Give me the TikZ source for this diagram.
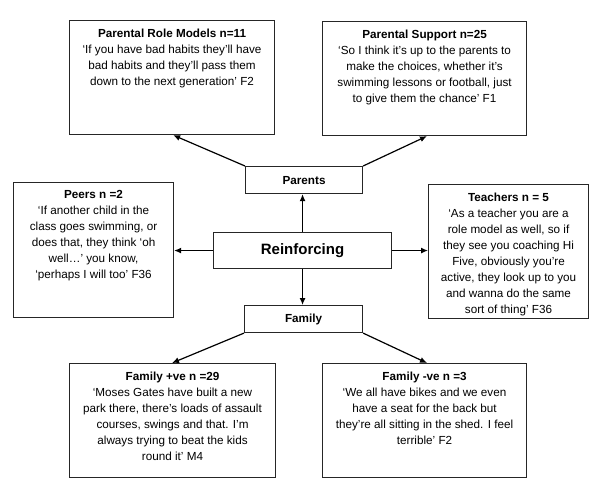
\documentclass[tikz,border=0pt]{standalone}
\usepackage{fontspec}
\setmainfont{Liberation Sans}
\usetikzlibrary{arrows.meta}
\begin{document}
\begin{tikzpicture}[x=1pt,y=-1pt,
  box/.style={draw=black!85,line width=1.1pt,inner sep=0pt,anchor=north west},
  txt/.style={anchor=north,align=center,inner sep=0pt,font=\fontsize{11.7}{16}\selectfont},
  arr/.style={line width=1.2pt,-{Latex[length=7pt,width=6pt]}}]
\useasboundingbox (0,0) rectangle (600,490);
% boxes
\node[box,minimum width=205pt,minimum height=114pt] (prm) at (69,20) {};
\node[box,minimum width=204pt,minimum height=114pt] (ps) at (322,21) {};
\node[box,minimum width=117pt,minimum height=27pt] (par) at (245,166) {};
\node[box,minimum width=160pt,minimum height=135pt] (peer) at (13,182) {};
\node[box,minimum width=178pt,minimum height=36pt] (rein) at (213,232) {};
\node[box,minimum width=160pt,minimum height=134pt] (teach) at (428,184) {};
\node[box,minimum width=118pt,minimum height=27pt] (fam) at (244,305) {};
\node[box,minimum width=206pt,minimum height=114pt] (fpos) at (69,363) {};
\node[box,minimum width=204pt,minimum height=114pt] (fneg) at (322,363) {};
% texts
\node[txt] at ([yshift=-8.5pt]prm.north) {\textbf{Parental Role Models n=11}\\ ‘If you have bad habits they'll have\\ bad habits and they'll pass them\\ down to the next generation’ F2};
\node[txt] at ([yshift=-9pt]ps.north) {\textbf{Parental Support n=25}\\ ‘So I think it's up to the parents to\\ make the choices, whether it's\\ swimming lessons or football, just\\ to give them the chance’ F1};
\node[font=\bfseries\fontsize{11.7}{14}\selectfont] at (par.center) {Parents};
\node[txt] at ([yshift=-8.5pt]peer.north) {\textbf{Peers n =2}\\ ‘If another child in the\\ class goes swimming, or\\ does that, they think ‘oh\\ well…’ you know,\\ ‘perhaps I will too’ F36};
\node[font=\bfseries\fontsize{15}{18}\selectfont] at (rein.center) {Reinforcing};
\node[txt] at ([yshift=-9pt]teach.north) {\textbf{Teachers n = 5}\\ ‘As a teacher you are a\\ role model as well, so if\\ they see you coaching Hi\\ Five, obviously you’re\\ active, they look up to you\\ and wanna do the same\\ sort of thing’ F36};
\node[font=\bfseries\fontsize{11.7}{14}\selectfont] at (fam.center) {Family};
\node[txt] at ([yshift=-9pt]fpos.north) {\textbf{Family +ve n =29}\\ ‘Moses Gates have built a new\\ park there, there's loads of assault\\ courses, swings and that. I'm\\ always trying to beat the kids\\ round it’ M4};
\node[txt] at ([yshift=-9pt]fneg.north) {\textbf{Family -ve n =3}\\ ‘We all have bikes and we even\\ have a seat for the back but\\ they're all sitting in the shed. I feel\\ terrible’ F2};
% connectors
\draw[arr] (par.north west) -- ([xshift=-102pt]prm.south east);
\draw[arr] (par.north east) -- ([xshift=105pt]ps.south west);
\draw[arr] (rein.north) -- (rein.north |- par.south);
\draw[arr] (rein.west) -- (peer.east |- rein.west);
\draw[arr] (rein.east) -- (teach.west |- rein.east);
\draw[arr] (rein.south) -- (rein.south |- fam.north);
\draw[arr] (fam.south west) -- ([xshift=103pt]fpos.north west);
\draw[arr] (fam.south east) -- ([xshift=105pt]fneg.north west);
\end{tikzpicture}
\end{document}
